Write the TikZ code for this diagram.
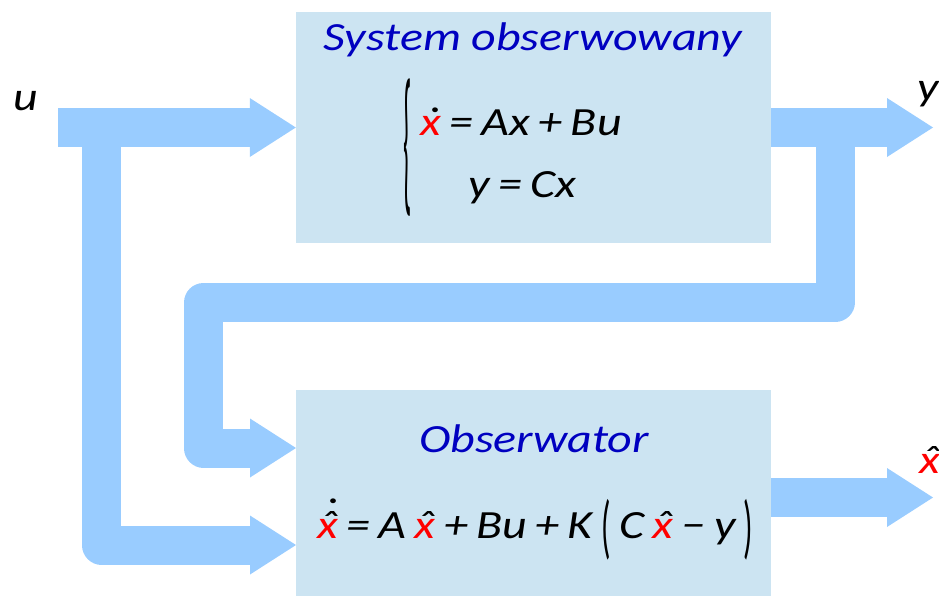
\documentclass[tikz,border=0pt]{standalone}
\usepackage{fontspec}
\usepackage{graphicx}
\setmainfont{Carlito}[FakeStretch=1.2]
\usetikzlibrary{arrows.meta}
\definecolor{boxblue}{RGB}{204,228,242}
\definecolor{flowblue}{RGB}{153,204,255}
\definecolor{titleblue}{RGB}{0,0,192}
\definecolor{xred}{RGB}{255,0,0}
\newcommand\rx{\textcolor{xred}{x}}
\newcommand\hx{{\ooalign{\rx\cr\hidewidth\kern0.1em\char"02C6\hidewidth\cr}}}
\newcommand\dx{{\ooalign{\rx\cr\hidewidth\kern0.1em\char"02D9\hidewidth\cr}}}
\newcommand\dhx{{\ooalign{\rx\cr\hidewidth\kern0.1em\char"02C6\hidewidth\cr\hidewidth\kern0.14em\raisebox{0.3em}{\char"02D9}\hidewidth\cr}}}
\newcommand\parL{\raisebox{-0.3em}{\scalebox{0.65}[1.75]{\upshape(}}}
\newcommand\parR{\raisebox{-0.3em}{\scalebox{0.65}[1.75]{\upshape)}}}
\newcommand\sk{\kern0.21em}
\tikzset{
  box/.style={fill=boxblue, draw=none, minimum width=475pt, inner sep=0pt},
  flow/.style={draw=flowblue, line width=39pt, line join=round,
    -{Triangle[length=46pt,width=59pt,line width=0pt]}},
  ttl/.style={font=\fontsize{40}{48}\selectfont\itshape, text=titleblue, inner sep=0pt},
  eq/.style={font=\fontsize{40}{48}\selectfont\itshape, text=black, inner sep=0pt},
}
\begin{document}
\begin{tikzpicture}[x=1pt,y=-1pt]
\useasboundingbox (0,0) rectangle (939,595);
% boxes
\node[box, minimum height=231pt] (sys) at (533.5,127.5) {};
\node[box, minimum height=215pt] (obs) at (533.5,497.5) {};
% coordinates
\coordinate (uin) at (58,127.5);
\coordinate (ujn) at (101.5,128);
\coordinate (uobs) at (296,545);
\coordinate (yout) at (933,127.5);
\coordinate (yjn) at (835,128);
\coordinate (fbr) at (835,302.5);
\coordinate (fbl) at (203.5,302.5);
\coordinate (fbin) at (296,448);
\coordinate (xout) at (933,497.5);
% flows
\draw[flow] (uin) -- (uin -| sys.west);
\draw[flow] (ujn) |- (uobs);
\draw[flow] (sys.east |- yout) -- (yout);
\draw[flow] (yjn) -- (fbr) -- (fbl) |- (fbin);
\draw[flow] (obs.east |- xout) -- (xout);
% texts
\node[ttl, anchor=base] (t1) at (533,50) {System obserwowany};
\node[eq, anchor=base west] (e1) at (420,135) {\dx\sk=\sk Ax\sk+\sk Bu};
\node[eq, anchor=base west] (e2) at (468,197) {y\sk=\sk Cx};
\node[inner sep=0pt] (br) at (408,147.5) {\fontsize{40}{48}\selectfont\scalebox{0.55}[4.0]{\upshape\{}};
\node[ttl, anchor=base] (t2) at (534,452) {Obserwator};
\node[eq, anchor=base west] (e3) at (317,538) {\dhx\sk=\sk A\sk\hx\sk+\sk Bu\sk+\sk K\sk\parL\sk C\sk\hx\sk−\sk y\sk\parR};
\node[eq, anchor=base] (lu) at (26,110) {u};
\node[eq, anchor=base west] (ly) at (917,100) {y};
\node[eq, anchor=base west] (lx) at (919,473) {\hx};
\end{tikzpicture}
\end{document}
